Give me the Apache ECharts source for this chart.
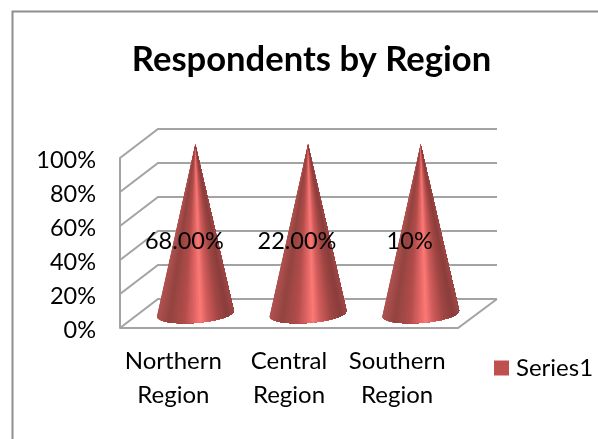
<!DOCTYPE html>
<html><head><meta charset="utf-8">
<style>html,body{margin:0;padding:0;background:#fff}#c{width:598px;height:439px}</style>
<script src="https://cdn.jsdelivr.net/npm/echarts@6/dist/echarts.min.js"></script>
</head><body><div id="c"></div>
<script>
const titleText = 'Respondents by Region';
const seriesName = 'Series1';
const categories = ['Northern\nRegion', 'Central\nRegion', 'Southern\nRegion'];
const stackedShare = [100, 100, 100];
const dataLabels = ['68.00%', '22.00%', '10%'];
const yTicks = [0, 20, 40, 60, 80, 100];

const FONT = 'Lato';
const GRID = '#a3a3a3';
const DEPTH_X = 38, DEPTH_Y = 29;
const shadeStops = [
  [0, [176, 82, 80]], [0.15, [147, 68, 64]], [0.35, [178, 77, 75]], [0.5, [232, 106, 104]],
  [0.56, [251, 122, 120]], [0.65, [210, 93, 91]], [0.8, [160, 70, 68]], [0.92, [138, 62, 60]], [1, [160, 72, 70]]
];
function shade(t) {
  for (let k = 1; k < shadeStops.length; k++) {
    if (t <= shadeStops[k][0]) {
      const a = shadeStops[k - 1], b = shadeStops[k];
      const f = (t - a[0]) / (b[0] - a[0]);
      return 'rgb(' + a[1].map((c, j) => Math.round(c + (b[1][j] - c) * f)).join(',') + ')';
    }
  }
  return 'rgb(' + shadeStops[shadeStops.length - 1][1].join(',') + ')';
}
const chart = echarts.init(document.getElementById('c'), null, { renderer: 'canvas' });
const lineStyle = { stroke: GRID, lineWidth: 2, fill: null };

function renderWall(params, api) {
  const s = params.coordSys;
  const y = api.coord([0, api.value(1)])[1];
  const left = s.x, right = s.x + s.width;
  const children = [{
    type: 'polyline', silent: true,
    shape: { points: [[left, y], [left + DEPTH_X, y - DEPTH_Y], [right + DEPTH_X + 1, y - DEPTH_Y]] },
    style: lineStyle
  }];
  if (api.value(1) === 0) {
    children.push({
      type: 'polyline', silent: true,
      shape: { points: [[left, y], [right, y], [right + DEPTH_X + 1, y - DEPTH_Y]] },
      style: lineStyle
    });
  }
  return { type: 'group', children };
}

function renderCone(params, api) {
  const i = api.value(0);
  const base = api.coord([i, 0]);
  const top = api.coord([i, api.value(1)]);
  const band = api.size([1, 0])[0];
  const cx = base[0] + DEPTH_X / 2;
  const cy = base[1] - DEPTH_Y / 2;
  const rx = band * 0.342, ry = 9.5, tilt = 0.075;
  const apex = [cx, top[1] - DEPTH_Y / 2 + 1];
  const edge = a => {
    const ex = rx * Math.cos(a), ey = ry * Math.sin(a);
    return [cx + ex * Math.cos(tilt) + ey * Math.sin(tilt), cy - ex * Math.sin(tilt) + ey * Math.cos(tilt)];
  };
  const N = 70;
  const children = [];
  // painter's order: each wedge covers everything to its right, so no seams appear
  for (let k = 0; k < N; k++) {
    const pts = [apex];
    for (let j = k; j <= N; j++) pts.push(edge(Math.PI * (1 - j / N)));
    const col = shade((1 - Math.cos(Math.PI * (k + 0.5) / N)) / 2);
    children.push({ type: 'polygon', silent: true, shape: { points: pts }, style: { fill: col } });
  }
  children.push({
    type: 'text', z2: 10, x: base[0] + 8, y: api.coord([i, 50])[1] - 2,
    style: { text: dataLabels[i], fill: '#000', font: '23.5px ' + FONT, align: 'center', verticalAlign: 'middle' }
  });
  return { type: 'group', children };
}

const catStyle = { color: '#000', fontFamily: FONT, fontSize: 24, lineHeight: 34 };
chart.setOption({
  animation: false,
  backgroundColor: '#fff',
  title: {
    text: titleText, left: 306.5, top: 37, textAlign: 'center',
    textStyle: { fontFamily: FONT, fontSize: 34.6, fontWeight: 'bold', color: '#000' }
  },
  legend: {
    data: [seriesName], left: 489, top: 351, itemWidth: 15, itemHeight: 15, itemGap: 6,
    icon: 'rect', selectedMode: false,
    textStyle: { fontFamily: FONT, fontSize: 24, color: '#000', padding: [0, 0, 0, 2] }
  },
  graphic: [{
    type: 'rect', silent: true, z: -1,
    shape: { x: 12.5, y: 11.5, width: 800, height: 800 },
    style: { fill: 'none', stroke: '#8e8e8e', lineWidth: 2 }
  }],
  grid: { left: 120, top: 158, width: 338, height: 170, containLabel: false },
  xAxis: {
    type: 'category', data: categories,
    axisLine: { show: false }, axisTick: { show: false },
    axisLabel: {
      interval: 0, margin: 16, fontFamily: FONT, fontSize: 24, lineHeight: 34, color: '#000',
      formatter: (v, i) => v.split('\n').map(l => '{r' + i + '|' + l + '}').join('\n'),
      rich: {
        r0: Object.assign({ padding: [0, 6, 0, 0] }, catStyle),
        r1: Object.assign({}, catStyle),
        r2: Object.assign({ padding: [0, 9, 0, 0] }, catStyle)
      }
    }
  },
  yAxis: {
    type: 'value', min: 0, max: 100, interval: 20,
    axisLine: { show: true, lineStyle: { color: GRID, width: 2 } },
    axisTick: { show: false }, splitLine: { show: false },
    axisLabel: {
      margin: 24, formatter: v => '{t|' + v + '%}',
      rich: { t: { color: '#000', fontFamily: FONT, fontSize: 23.5, padding: [5, 0, 0, 0] } }
    }
  },
  series: [
    { type: 'custom', name: 'wall', silent: true, z: 1, renderItem: renderWall,
      data: yTicks.map(t => [0, t]), encode: { x: 0, y: 1 } },
    { type: 'custom', name: seriesName, z: 3, renderItem: renderCone,
      itemStyle: { color: '#c0504d' },
      data: stackedShare.map((v, i) => [i, v]), encode: { x: 0, y: 1 } }
  ]
});
</script></body></html>
